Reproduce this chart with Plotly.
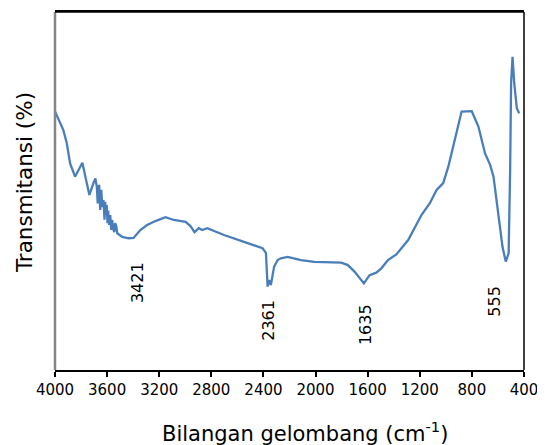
import plotly.graph_objects as go

wavenumber = [4000, 3975, 3936, 3910, 3884, 3846, 3820, 3790, 3756, 3736, 3705,
              3690, 3679, 3672, 3666, 3661, 3653, 3645, 3636, 3628, 3620, 3615,
              3609, 3603, 3597, 3592, 3584, 3576, 3568, 3561, 3553, 3545, 3538,
              3530, 3522, 3514, 3484, 3435, 3397, 3345, 3293, 3229, 3152,
              3088, 2998, 2960, 2929, 2896, 2869, 2831, 2703, 2549, 2407, 2381,
              2368, 2356, 2343, 2318, 2291, 2266, 2214, 2112, 2009, 1803, 1752,
              1701, 1629, 1585, 1534, 1495, 1444, 1380, 1289, 1187, 1123, 1071,
              1020, 981, 930, 879, 801, 750, 699, 660, 634, 596, 565, 540, 518,
              506, 499, 488, 475, 455, 437]
transmittance = [72.2, 70.3, 67.0, 63.4, 57.7, 54.0, 55.9, 57.9, 52.2, 48.9, 52.2,
                 53.5, 51.2, 46.5, 50.8, 51.7, 44.7, 50.3, 45.5, 47.5, 42.0, 47.0,
                 43.3, 46.1, 41.0, 44.5, 40.5, 43.3, 39.1, 41.9, 39.5, 38.5, 41.0,
                 40.2, 38.2, 38.0, 37.2, 36.8, 36.9, 39.1, 40.5, 41.6, 42.7,
                 41.9, 41.4, 40.2, 38.5, 39.6, 39.1, 39.6, 37.7, 35.8, 34.0, 32.7,
                 23.3, 25.1, 23.7, 28.9, 30.7, 31.2, 31.6, 30.7, 30.2, 30.0, 29.3,
                 27.5, 24.2, 26.5, 27.2, 28.4, 30.7, 32.3, 36.3, 43.3, 46.6, 50.3,
                 52.2, 56.8, 64.2, 72.2, 72.3, 68.0, 60.5, 57.3, 54.0, 43.8, 34.4,
                 30.3, 32.6, 56.8, 80.1, 87.5, 80.1, 73.1, 71.7]

peak_labels = ["3421", "2361", "1635", "555"]
label_x = [3370, 2358, 1611, 624]
label_y = [24.3, 14.0, 12.6, 19.3]

x_ticks = [4000, 3600, 3200, 2800, 2400, 2000, 1600, 1200, 800, 400]

FONT = "DejaVu Sans"

fig = go.Figure()
fig.add_trace(go.Scatter(
    x=wavenumber, y=transmittance, mode="lines",
    line=dict(color="#4a7ebb", width=2.3), showlegend=False,
))

for t, xv, yv in zip(peak_labels, label_x, label_y):
    fig.add_annotation(x=xv, y=yv, xref="x", yref="y", text=t, textangle=-90,
                       showarrow=False, font=dict(family=FONT, size=16, color="#000"))

# axis titles
fig.add_annotation(x=0.533, y=0, xref="paper", yref="paper", yshift=-62,
                   xanchor="center", yanchor="middle", showarrow=False,
                   text="Bilangan gelombang (cm<sup>-1</sup>)",
                   font=dict(family=FONT, size=21, color="#000"))
fig.add_annotation(x=0, y=0.522, xref="paper", yref="paper", xshift=-31,
                   xanchor="center", yanchor="middle", showarrow=False, textangle=-90,
                   text="Transmitansi (%)",
                   font=dict(family=FONT, size=21.5, color="#000"))

fig.update_layout(
    width=537, height=437,
    margin=dict(l=47, r=21, t=4, b=75),
    paper_bgcolor="white", plot_bgcolor="white",
    font=dict(family=FONT, color="#000"),
    xaxis=dict(
        range=[4000, 400], tickvals=x_ticks, ticktext=[str(v) for v in x_ticks],
        ticks="outside", ticklen=5, tickwidth=1.5, tickcolor="#000",
        showline=True, linecolor="#000", linewidth=1.5, mirror=True,
        showgrid=False, zeroline=False, automargin=False,
        tickfont=dict(family=FONT, size=15),
    ),
    yaxis=dict(
        range=[0, 100], showticklabels=False, ticks="",
        showline=False, showgrid=False, zeroline=False, automargin=False,
    ),
    shapes=[
        dict(type="line", xref="paper", yref="paper", x0=0, x1=0, y0=0, y1=1,
             line=dict(color="#868686", width=2.5)),
        dict(type="line", xref="paper", yref="paper", x0=1, x1=1, y0=0, y1=1,
             line=dict(color="#000", width=1.5)),
        dict(type="line", xref="paper", yref="paper", x0=0, x1=1, y0=1, y1=1,
             line=dict(color="#000", width=1.5)),
    ],
)

fig.write_html("out.html")
